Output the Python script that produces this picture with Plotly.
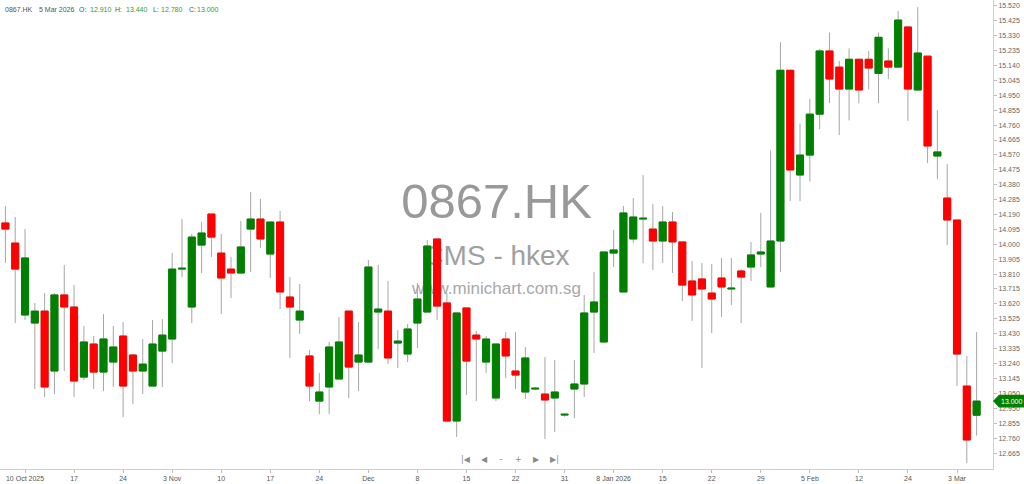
import plotly.graph_objects as go

# ---------------- data ----------------
dates = [
    "2025-10-08", "2025-10-09", "2025-10-10", "2025-10-13", "2025-10-14", "2025-10-15", "2025-10-16", "2025-10-17",
    "2025-10-20", "2025-10-21", "2025-10-22", "2025-10-23", "2025-10-24", "2025-10-27", "2025-10-28", "2025-10-30",
    "2025-10-31",
    "2025-11-03", "2025-11-04", "2025-11-05", "2025-11-06", "2025-11-07", "2025-11-10", "2025-11-11", "2025-11-12",
    "2025-11-13", "2025-11-14", "2025-11-17", "2025-11-18", "2025-11-19", "2025-11-20", "2025-11-21", "2025-11-24",
    "2025-11-25", "2025-11-26", "2025-11-27", "2025-11-28",
    "2025-12-01", "2025-12-02", "2025-12-03", "2025-12-04", "2025-12-05", "2025-12-08", "2025-12-09", "2025-12-10",
    "2025-12-11", "2025-12-12", "2025-12-15", "2025-12-16", "2025-12-17", "2025-12-18", "2025-12-19", "2025-12-22",
    "2025-12-23", "2025-12-24", "2025-12-29", "2025-12-30", "2025-12-31",
    "2026-01-02", "2026-01-05", "2026-01-06", "2026-01-07", "2026-01-08", "2026-01-09", "2026-01-12", "2026-01-13",
    "2026-01-14", "2026-01-15", "2026-01-16", "2026-01-19", "2026-01-20", "2026-01-21", "2026-01-22", "2026-01-23",
    "2026-01-26", "2026-01-27", "2026-01-28", "2026-01-29", "2026-01-30",
    "2026-02-02", "2026-02-03", "2026-02-04", "2026-02-05", "2026-02-06", "2026-02-09", "2026-02-10", "2026-02-11",
    "2026-02-12", "2026-02-13", "2026-02-16", "2026-02-20", "2026-02-23", "2026-02-24", "2026-02-25", "2026-02-26",
    "2026-02-27",
    "2026-03-02", "2026-03-03", "2026-03-04", "2026-03-05",
]

opens = [
    14.136, 14.008, 13.549, 13.498, 13.574, 13.192, 13.677, 13.600,
    13.153, 13.364, 13.185, 13.249, 13.415, 13.294, 13.192, 13.096,
    13.319,
    13.396, 13.842, 13.600, 13.995, 14.193, 13.944, 13.842, 13.817,
    14.097, 14.161, 13.938, 14.142, 13.664, 13.517, 13.288, 13.000,
    13.090, 13.141, 13.574, 13.249,
    13.249, 13.568, 13.574, 13.370, 13.300, 13.498, 13.568, 14.034,
    13.626, 12.873, 13.594, 13.421, 13.249, 13.020, 13.396, 13.192,
    13.058, 13.077, 13.045, 13.020, 12.911,
    13.077, 13.109, 13.568, 13.377, 13.944, 13.696, 14.034, 14.161,
    14.097, 14.021, 14.142, 14.015, 13.766, 13.779, 13.689, 13.785,
    13.715, 13.830, 13.855, 13.938, 13.728,
    14.021, 15.110, 14.442, 14.569, 14.830, 15.233, 15.130, 14.990,
    15.180, 15.180, 15.090, 15.169, 15.130, 15.386, 14.984, 15.200,
    14.563,
    14.295, 14.155, 13.096, 12.910,
]

highs = [
    14.244, 14.174, 14.097, 13.626, 13.689, 13.689, 13.868, 13.740,
    13.479, 13.415, 13.555, 13.479, 13.504, 13.300, 13.396, 13.517,
    13.523,
    13.944, 14.161, 14.066, 14.142, 14.193, 14.066, 13.919, 14.149,
    14.333, 14.289, 14.142, 14.212, 13.791, 13.747, 13.326, 13.179,
    13.377, 13.536, 13.574, 13.504,
    13.900, 13.868, 13.766, 13.453, 13.491, 13.753, 14.027, 14.034,
    13.689, 13.562, 13.594, 13.447, 13.415, 13.364, 13.440, 13.440,
    13.345, 13.090, 13.281, 13.262, 12.920,
    13.262, 13.677, 13.823, 13.951, 14.091, 14.244, 14.295, 14.442,
    14.257, 14.244, 14.206, 14.015, 13.893, 13.881, 13.874, 13.913,
    13.913, 13.842, 14.015, 14.200, 14.600,
    15.290, 15.110, 14.770, 14.927, 15.245, 15.350, 15.169, 15.250,
    15.180, 15.233, 15.350, 15.250, 15.488, 15.386, 15.513, 15.200,
    14.856,
    14.512, 14.155, 13.288, 13.440,
]

lows = [
    13.881, 13.498, 13.517, 13.077, 13.026, 13.045, 13.192, 13.026,
    13.134, 13.077, 13.064, 13.090, 12.898, 12.981, 13.045, 13.096,
    13.090,
    13.243, 13.791, 13.498, 13.817, 13.919, 13.555, 13.657, 13.817,
    13.823, 13.976, 13.785, 13.587, 13.275, 13.428, 13.000, 12.917,
    12.917, 13.141, 13.020, 13.064,
    13.249, 13.332, 13.236, 13.211, 13.249, 13.338, 13.568, 13.517,
    12.866, 12.771, 13.039, 13.000, 13.179, 13.000, 13.147, 13.077,
    13.013, 13.070, 12.758, 12.803, 12.900,
    12.892, 13.026, 13.307, 13.377, 13.855, 13.696, 14.008, 13.881,
    13.836, 13.881, 13.817, 13.638, 13.511, 13.211, 13.434, 13.536,
    13.613, 13.498, 13.766, 13.855, 13.728,
    13.823, 14.276, 14.276, 14.400, 14.735, 14.900, 14.697, 14.790,
    14.900, 14.990, 14.900, 15.054, 15.130, 14.786, 14.984, 14.518,
    14.416,
    13.995, 13.096, 12.605, 12.780,
]

closes = [
    14.097, 13.842, 13.913, 13.574, 13.090, 13.677, 13.600, 13.128,
    13.377, 13.185, 13.396, 13.345, 13.096, 13.192, 13.236, 13.364,
    13.421,
    13.842, 13.847, 14.046, 14.072, 14.046, 13.785, 13.817, 13.983,
    14.161, 14.034, 14.142, 13.696, 13.600, 13.574, 13.096, 13.058,
    13.345, 13.377, 13.217, 13.294,
    13.855, 13.587, 13.275, 13.383, 13.460, 13.651, 13.989, 13.606,
    12.873, 13.562, 13.255, 13.396, 13.396, 13.364, 13.288, 13.166,
    13.275, 13.082, 13.007, 13.058, 12.916,
    13.109, 13.562, 13.632, 13.951, 13.964, 14.200, 14.174, 14.166,
    14.021, 14.142, 14.015, 13.740, 13.677, 13.715, 13.651, 13.728,
    13.720, 13.791, 13.932, 13.951, 14.021,
    15.110, 14.474, 14.569, 14.830, 15.233, 15.054, 14.990, 15.180,
    14.984, 15.124, 15.320, 15.130, 15.430, 14.990, 15.220, 14.627,
    14.589,
    14.155, 13.300, 12.752, 13.000,
]

tick_dates = ["2025-10-10", "2025-10-17", "2025-10-24", "2025-11-03", "2025-11-10", "2025-11-17", "2025-11-24",
              "2025-12-01", "2025-12-08", "2025-12-15", "2025-12-22", "2025-12-31", "2026-01-08", "2026-01-15",
              "2026-01-22", "2026-01-29", "2026-02-05", "2026-02-12", "2026-02-24", "2026-03-03"]
tick_labels = ["10 Oct 2025", "17", "24", "3 Nov", "10", "17", "24", "Dec", "8", "15", "22", "31",
               "8 Jan 2026", "15", "22", "29", "5 Feb", "12", "24", "3 Mar"]

price_ticks = [12.665, 12.760, 12.855, 12.950, 13.050, 13.145, 13.240, 13.335, 13.430, 13.525, 13.620,
               13.715, 13.810, 13.905, 14.000, 14.095, 14.190, 14.285, 14.380, 14.475, 14.570, 14.665,
               14.760, 14.855, 14.950, 15.045, 15.140, 15.235, 15.330, 15.425, 15.520]

symbol = "0867.HK"
last_date_label = "5 Mar 2026"
watermark = ["0867.HK", "CMS - hkex", "www.minichart.com.sg"]

# ---------------- figure ----------------
W, H = 1024, 484
ML, MR, MT, MB = 0, 31, 0, 15
PW = W - ML - MR
PH = H - MT - MB

body_hi = [max(o, c) for o, c in zip(opens, closes)]
body_lo = [min(o, c) for o, c in zip(opens, closes)]

FONT = "Liberation Sans"
GREEN = "#008000"
RED = "#ff0000"
WICK = "#a6a6a6"

fig = go.Figure()

# watermark (on the base, hidden axes -> drawn under the candles)
fig.add_trace(go.Scatter(
    x=[0.5, 0.5, 0.5], y=[0.561, 0.449, 0.382],
    mode="text", text=watermark,
    textfont=dict(family=FONT, size=[49, 28, 17], color=["#999999", "#a0a0a0", "#a8a8a8"]),
    xaxis="x", yaxis="y", hoverinfo="skip", showlegend=False,
))

# wicks
fig.add_trace(go.Candlestick(
    x=dates, open=opens, high=highs, low=lows, close=closes,
    xaxis="x2", yaxis="y2",
    increasing=dict(line=dict(color=WICK, width=1), fillcolor=WICK),
    decreasing=dict(line=dict(color=WICK, width=1), fillcolor=WICK),
    whiskerwidth=0, showlegend=False, hoverinfo="skip",
))
# bodies
fig.add_trace(go.Candlestick(
    x=dates, open=opens, high=body_hi, low=body_lo, close=closes,
    xaxis="x2", yaxis="y2",
    increasing=dict(line=dict(color=GREEN, width=1), fillcolor=GREEN),
    decreasing=dict(line=dict(color=RED, width=1), fillcolor=RED),
    whiskerwidth=0, showlegend=False,
))

n = len(dates)
fig.update_layout(
    template="none",
    width=W, height=H,
    margin=dict(l=ML, r=MR, t=MT, b=MB, pad=0),
    paper_bgcolor="white", plot_bgcolor="white",
    font=dict(family=FONT, size=7, color="#555555"),
    showlegend=False,
    boxgap=0.28, boxgroupgap=0,
    xaxis=dict(domain=[0, 1], range=[0, 1], visible=False, fixedrange=True, automargin=False),
    yaxis=dict(domain=[0, 1], range=[0, 1], visible=False, fixedrange=True, automargin=False),
    xaxis2=dict(
        overlaying="x", anchor="y2", type="category",
        range=[-0.55, n + 0.67],
        tickmode="array", tickvals=tick_dates, ticktext=tick_labels,
        ticks="outside", ticklen=3, tickcolor="#bbbbbb", tickwidth=1,
        showline=True, linecolor="#d0d0d0", linewidth=1,
        showgrid=False, zeroline=False,
        tickfont=dict(family=FONT, size=7, color="#555555"),
        rangeslider=dict(visible=False), automargin=False,
    ),
    yaxis2=dict(
        overlaying="y", anchor="x2", side="right",
        range=[12.567, 15.558],
        tickmode="array", tickvals=price_ticks, ticktext=[f"{v:.3f}" for v in price_ticks],
        ticks="outside", ticklen=3, tickcolor="#bbbbbb", tickwidth=1,
        showline=True, linecolor="#d0d0d0", linewidth=1,
        showgrid=False, zeroline=False,
        tickfont=dict(family=FONT, size=7, color="#666666"),
        automargin=False,
    ),
)

# header
VAL = "#2e9e2e"
LAB = "#555555"
header = [
    (3, symbol, LAB), (37, last_date_label, LAB),
    (77, "O:", LAB), (88, f"{opens[-1]:.3f}", VAL),
    (113, "H:", LAB), (124, f"{highs[-1]:.3f}", VAL),
    (151, "L:", LAB), (159, f"{lows[-1]:.3f}", VAL),
    (187, "C:", LAB), (195, f"{closes[-1]:.3f}", VAL),
]
for px, txt, col in header:
    fig.add_annotation(x=0, y=1, xref="paper", yref="paper", xanchor="left", yanchor="middle",
                       xshift=px, yshift=-9, text=txt, showarrow=False,
                       font=dict(family=FONT, size=7, color=col))

# navigation icons
for px, sym in [(466, "|◀"), (484, "◀"), (501, "–"), (518, "+"), (536, "▶"), (554, "▶|")]:
    fig.add_annotation(x=0, y=0, xref="paper", yref="paper", xanchor="center", yanchor="middle",
                       xshift=px, yshift=10, text=sym, showarrow=False,
                       font=dict(family="DejaVu Sans", size=8, color="#8a8a8a"))

# last price marker on the price axis
last = closes[-1]
dy = 0.040
px1 = 1 / PW
fig.add_shape(type="path", xref="paper", yref="y2",
              path=(f"M 1.0,{last} L {1 + 6 * px1},{last + dy} L {1 + 31 * px1},{last + dy} "
                    f"L {1 + 31 * px1},{last - dy} L {1 + 6 * px1},{last - dy} Z"),
              fillcolor=GREEN, line=dict(width=0), layer="above")
fig.add_annotation(x=1, y=last, xref="paper", yref="y2", xanchor="left", yanchor="middle",
                   xshift=6, text=f"{last:.3f}", showarrow=False,
                   font=dict(family=FONT, size=7, color="white"))

fig.write_html("out.html", config={"displayModeBar": False},
               post_script="document.body.style.margin='0px';")
